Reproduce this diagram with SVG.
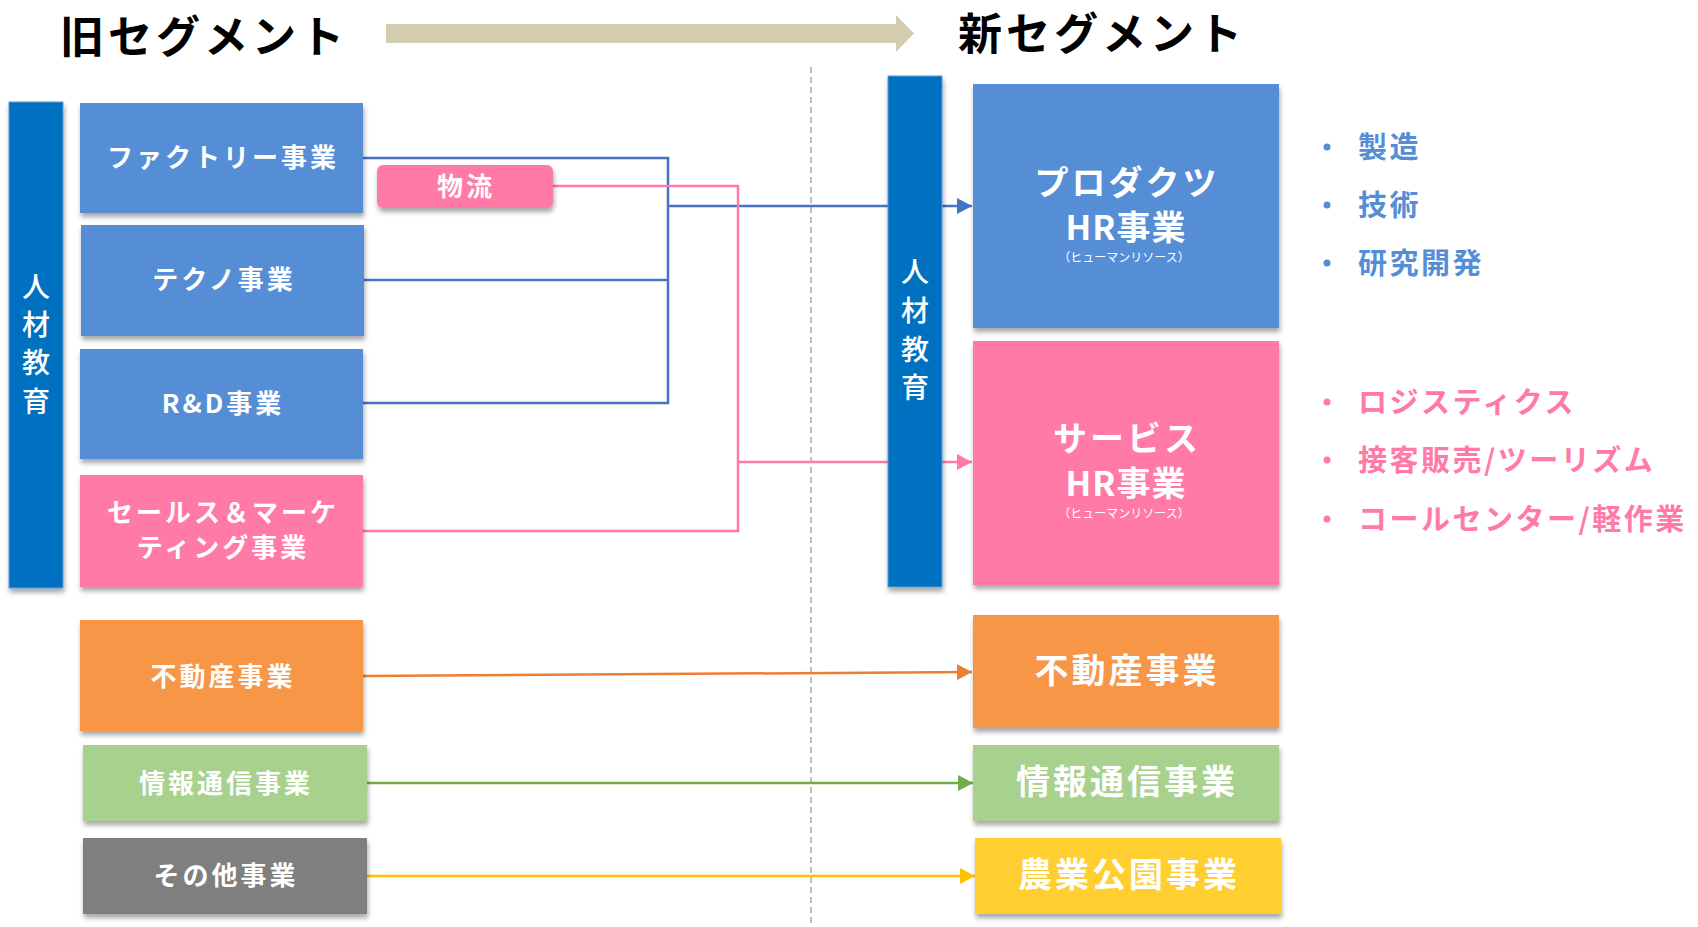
<svg xmlns="http://www.w3.org/2000/svg" width="1698" height="927" viewBox="0 0 1698 927">
<style>
text{font-family:"Noto Sans CJK JP","Noto Sans",sans-serif;font-weight:700;}
.w{fill:#fff;text-anchor:middle;dominant-baseline:central;}
.lab{font-size:26px;letter-spacing:3px;}
.big{font-size:34px;letter-spacing:3px;}
.hr{font-size:34px;letter-spacing:1px;}
.sm{font-size:12px;font-weight:400;}
.ttl{font-size:44px;letter-spacing:4px;fill:#000;dominant-baseline:central;}
.bar{fill:#0070C0;stroke:#5B9BD5;stroke-width:1;}
.bt{font-size:28px;fill:#fff;text-anchor:middle;dominant-baseline:central;font-weight:500;}
.blue{fill:#558ED5;}
.pink{fill:#FF7AA6;}
.orange{fill:#F79646;}
.green{fill:#A9D18E;}
.gray{fill:#7F7F7F;}
.yellow{fill:#FFCF33;}
.li{font-size:29px;letter-spacing:2.5px;dominant-baseline:central;font-weight:700;}
.cn{fill:none;stroke-width:2.5;}
</style>
<defs>
<filter id="sh" x="-10%" y="-10%" width="120%" height="130%">
<feDropShadow dx="1" dy="4" stdDeviation="2.5" flood-color="#000" flood-opacity="0.35"/>
</filter>
<marker id="mb" markerWidth="16" markerHeight="16" refX="15" refY="8" orient="auto" markerUnits="userSpaceOnUse"><path d="M0,0 L15,8 L0,16 z" fill="#4472C4"/></marker>
<marker id="mp" markerWidth="16" markerHeight="16" refX="15" refY="8" orient="auto" markerUnits="userSpaceOnUse"><path d="M0,0 L15,8 L0,16 z" fill="#FF7AA6"/></marker>
<marker id="mo" markerWidth="16" markerHeight="16" refX="15" refY="8" orient="auto" markerUnits="userSpaceOnUse"><path d="M0,0 L15,8 L0,16 z" fill="#ED7D31"/></marker>
<marker id="mg" markerWidth="16" markerHeight="16" refX="15" refY="8" orient="auto" markerUnits="userSpaceOnUse"><path d="M0,0 L15,8 L0,16 z" fill="#70AD47"/></marker>
<marker id="my" markerWidth="16" markerHeight="16" refX="15" refY="8" orient="auto" markerUnits="userSpaceOnUse"><path d="M0,0 L15,8 L0,16 z" fill="#FFC000"/></marker>
</defs>
<rect width="1698" height="927" fill="#fff"/>

<g id="header">
<text class="ttl" x="60" y="34">旧セグメント</text>
<text class="ttl" x="958" y="31">新セグメント</text>
<path d="M386,24 H896 V15 L914,33.5 L896,52 V43 H386 z" fill="#D2CDB0"/>
<line x1="811" y1="67" x2="811" y2="927" stroke="#7F7F7F" stroke-width="1" stroke-dasharray="6,4"/>
</g>

<g id="connectors">
<path class="cn" stroke="#4472C4" d="M363,158 H668 V403 H363"/>
<path class="cn" stroke="#4472C4" d="M363,280 H668"/>
<path class="cn" stroke="#4472C4" d="M668,206 H972" marker-end="url(#mb)"/>
<path class="cn" stroke="#FF7AA6" d="M552,186 H738 V531 H363"/>
<path class="cn" stroke="#FF7AA6" d="M738,462 H972" marker-end="url(#mp)"/>
<path class="cn" stroke="#ED7D31" d="M363,676 L972,672" marker-end="url(#mo)"/>
<path class="cn" stroke="#70AD47" d="M367,783 H973" marker-end="url(#mg)"/>
<path class="cn" stroke="#FFC000" d="M367,876 H975" marker-end="url(#my)"/>
</g>

<g id="old-hr-bar">
<rect class="bar" x="9" y="102" width="54" height="486" filter="url(#sh)"/>
<text class="bt" x="36" y="285">人</text>
<text class="bt" x="36" y="323">材</text>
<text class="bt" x="36" y="361">教</text>
<text class="bt" x="36" y="400">育</text>
</g>

<g id="old-factory">
<rect class="blue" x="80" y="103" width="283" height="110" filter="url(#sh)"/>
<text class="w lab" x="223" y="155">ファクトリー事業</text>
</g>
<g id="old-logistics">
<rect class="pink" x="377" y="165" width="176" height="43" rx="6" filter="url(#sh)"/>
<text class="w lab" x="466" y="184">物流</text>
</g>
<g id="old-techno">
<rect class="blue" x="81" y="225" width="283" height="111" filter="url(#sh)"/>
<text class="w lab" x="224" y="277">テクノ事業</text>
</g>
<g id="old-rd">
<rect class="blue" x="80" y="349" width="283" height="110" filter="url(#sh)"/>
<text class="w lab" x="223" y="401">R&amp;D事業</text>
</g>
<g id="old-sales">
<rect class="pink" x="80" y="475" width="283" height="112" filter="url(#sh)"/>
<text class="w lab" x="223" y="510">セールス＆マーケ</text>
<text class="w lab" x="223" y="545">ティング事業</text>
</g>
<g id="old-realestate">
<rect class="orange" x="80" y="620" width="283" height="111" filter="url(#sh)"/>
<text class="w lab" x="223" y="674">不動産事業</text>
</g>
<g id="old-ict">
<rect class="green" x="83" y="745" width="284" height="76" filter="url(#sh)"/>
<text class="w lab" x="226" y="781">情報通信事業</text>
</g>
<g id="old-other">
<rect class="gray" x="83" y="838" width="284" height="76" filter="url(#sh)"/>
<text class="w lab" x="226" y="873">その他事業</text>
</g>

<g id="new-hr-bar">
<rect class="bar" x="888" y="76" width="54" height="511" filter="url(#sh)"/>
<text class="bt" x="915" y="270">人</text>
<text class="bt" x="915" y="309">材</text>
<text class="bt" x="915" y="348">教</text>
<text class="bt" x="915" y="386">育</text>
</g>

<g id="new-products-hr">
<rect class="blue" x="973" y="84" width="306" height="244" filter="url(#sh)"/>
<text class="w big" x="1127" y="180">プロダクツ</text>
<text class="w hr" x="1126" y="225">HR事業</text>
<text class="w sm" x="1124" y="256">（ヒューマンリソース）</text>
</g>
<g id="new-service-hr">
<rect class="pink" x="973" y="341" width="306" height="244" filter="url(#sh)"/>
<text class="w big" x="1127" y="436">サービス</text>
<text class="w hr" x="1126" y="481">HR事業</text>
<text class="w sm" x="1124" y="512">（ヒューマンリソース）</text>
</g>
<g id="new-realestate">
<rect class="orange" x="973" y="615" width="306" height="113" filter="url(#sh)"/>
<text class="w big" x="1127" y="668">不動産事業</text>
</g>
<g id="new-ict">
<rect class="green" x="973" y="745" width="306" height="76" filter="url(#sh)"/>
<text class="w big" x="1127" y="779">情報通信事業</text>
</g>
<g id="new-agripark">
<rect class="yellow" x="975" y="838" width="306" height="76" filter="url(#sh)"/>
<text class="w big" x="1129" y="872">農業公園事業</text>
</g>

<g id="products-list" fill="#558ED5">
<circle cx="1327" cy="147" r="3.5"/>
<circle cx="1327" cy="205" r="3.5"/>
<circle cx="1327" cy="263" r="3.5"/>
<text class="li" x="1358" y="145">製造</text>
<text class="li" x="1358" y="203">技術</text>
<text class="li" x="1358" y="261">研究開発</text>
</g>
<g id="service-list" fill="#FF7AA6">
<circle cx="1327" cy="402" r="3.5"/>
<circle cx="1327" cy="460" r="3.5"/>
<circle cx="1327" cy="519" r="3.5"/>
<text class="li" x="1358" y="400">ロジスティクス</text>
<text class="li" x="1358" y="458">接客販売/ツーリズム</text>
<text class="li" x="1358" y="517">コールセンター/軽作業</text>
</g>
</svg>
